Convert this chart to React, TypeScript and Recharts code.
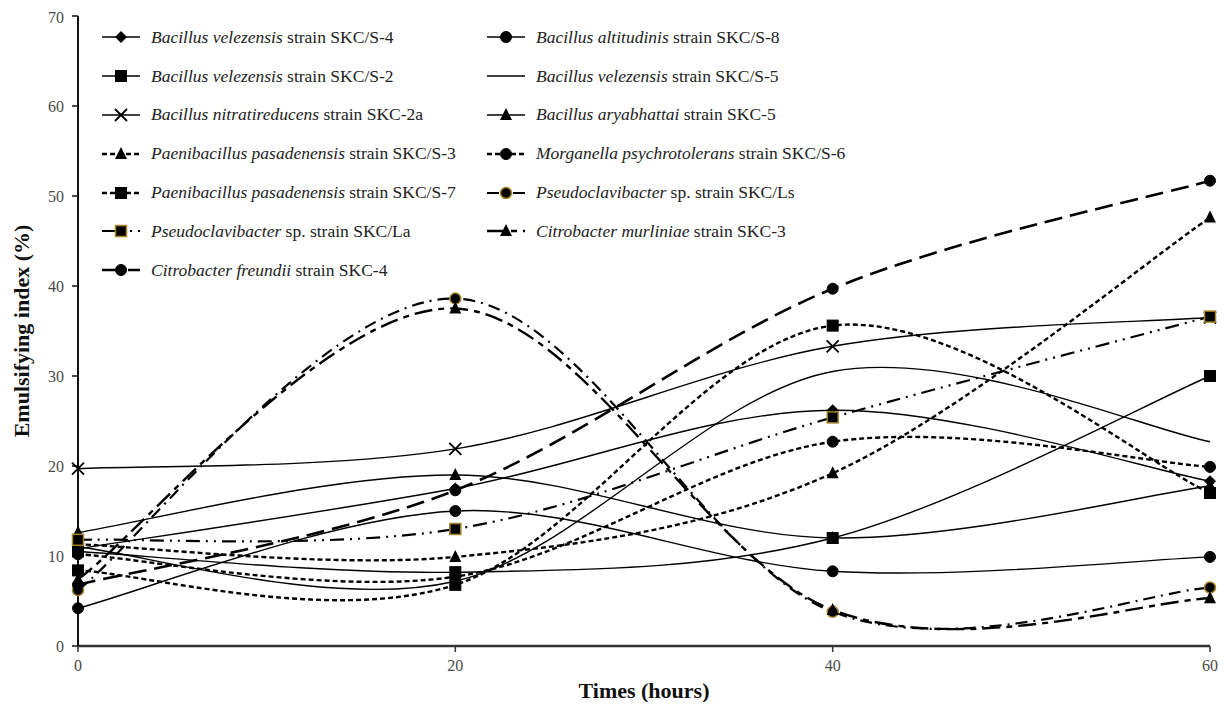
import React from "react";
import { LineChart, Line, XAxis, YAxis, Legend, Label } from "recharts";

// sampling times (hours) and emulsifying index (%) per strain
const hours = [0, 20, 40, 60];
const velezensisS4 = [10.8, 17.5, 26.2, 18.3];
const altitudinisS8 = [4.2, 15.0, 8.3, 9.9];
const velezensisS2 = [10.5, 8.2, 12.0, 30.0];
const velezensisS5 = [11.0, 7.2, 30.5, 22.7];
const nitratireducens2a = [19.7, 21.9, 33.3, 36.5];
const aryabhattai5 = [12.6, 19.0, 12.0, 17.8];
const paenibacillusS3 = [11.3, 9.9, 19.2, 47.6];
const morganellaS6 = [10.2, 7.7, 22.7, 19.9];
const paenibacillusS7 = [8.4, 6.8, 35.6, 17.0];
const pseudoLs = [6.2, 38.6, 3.8, 6.5];
const pseudoLa = [11.8, 13.0, 25.4, 36.6];
const murliniae3 = [7.4, 37.5, 4.0, 5.3];
const freundii4 = [6.8, 17.3, 39.7, 51.7];

const yTicks = [0, 10, 20, 30, 40, 50, 60, 70];
const xTicks = [0, 20, 40, 60];

type Shape = "diamond" | "circle" | "square" | "cross" | "triangle" | "none";

type Series = {
  key: string;
  values: number[];
  italic: string;
  rest: string;
  shape: Shape;
  dash?: string;
  width: number;
  gold?: boolean;
};

// legend order (row by row, two columns)
const series: Series[] = [
  { key: "s4", values: velezensisS4, italic: "Bacillus velezensis", rest: " strain SKC/S-4", shape: "diamond", width: 1.4 },
  { key: "s8", values: altitudinisS8, italic: "Bacillus altitudinis", rest: " strain SKC/S-8", shape: "circle", width: 1.4 },
  { key: "s2", values: velezensisS2, italic: "Bacillus velezensis", rest: " strain SKC/S-2", shape: "square", width: 1.4 },
  { key: "s5", values: velezensisS5, italic: "Bacillus velezensis", rest: " strain SKC/S-5", shape: "none", width: 1.4 },
  { key: "k2a", values: nitratireducens2a, italic: "Bacillus nitratireducens", rest: " strain SKC-2a", shape: "cross", width: 1.4 },
  { key: "k5", values: aryabhattai5, italic: "Bacillus aryabhattai", rest: " strain SKC-5", shape: "triangle", width: 1.4 },
  { key: "s3", values: paenibacillusS3, italic: "Paenibacillus pasadenensis", rest: " strain SKC/S-3", shape: "triangle", dash: "5 3", width: 2.4 },
  { key: "s6", values: morganellaS6, italic: "Morganella psychrotolerans", rest: " strain SKC/S-6", shape: "circle", dash: "5 3", width: 2.4 },
  { key: "s7", values: paenibacillusS7, italic: "Paenibacillus pasadenensis", rest: " strain SKC/S-7", shape: "square", dash: "5 3", width: 2.4 },
  { key: "ls", values: pseudoLs, italic: "Pseudoclavibacter", rest: " sp. strain SKC/Ls", shape: "circle", dash: "12 6 2 6", width: 2.2, gold: true },
  { key: "la", values: pseudoLa, italic: "Pseudoclavibacter", rest: " sp. strain SKC/La", shape: "square", dash: "14 6 2 6 2 6", width: 2.2, gold: true },
  { key: "k3", values: murliniae3, italic: "Citrobacter murliniae", rest: " strain SKC-3", shape: "triangle", dash: "18 6 6 6", width: 2.4 },
  { key: "k4", values: freundii4, italic: "Citrobacter freundii", rest: " strain SKC-4", shape: "circle", dash: "18 8", width: 2.6 },
];

const data = hours.map((t, i) => {
  const row: Record<string, number> = { t };
  series.forEach((s) => {
    row[s.key] = s.values[i];
  });
  return row;
});

// Excel style smoothing (Catmull-Rom as cubic bezier)
const smoothCurve = (context: any) => {
  let pts: number[][] = [];
  return {
    areaStart() {},
    areaEnd() {},
    lineStart() {
      pts = [];
    },
    point(x: number, y: number) {
      pts.push([+x, +y]);
    },
    lineEnd() {
      if (!pts.length) return;
      context.moveTo(pts[0][0], pts[0][1]);
      for (let i = 0; i < pts.length - 1; i++) {
        const p0 = pts[i - 1] || pts[i];
        const p1 = pts[i];
        const p2 = pts[i + 1];
        const p3 = pts[i + 2] || p2;
        context.bezierCurveTo(
          p1[0] + (p2[0] - p0[0]) / 6,
          p1[1] + (p2[1] - p0[1]) / 6,
          p2[0] - (p3[0] - p1[0]) / 6,
          p2[1] - (p3[1] - p1[1]) / 6,
          p2[0],
          p2[1]
        );
      }
    },
  };
};

const GOLD = "#a8842a";

const Marker = ({ shape, cx, cy, gold }: { shape: Shape; cx: number; cy: number; gold?: boolean }) => {
  const stroke = gold ? GOLD : "#000";
  const sw = gold ? 1.5 : 1;
  if (shape === "none") return null;
  if (shape === "circle")
    return <circle cx={cx} cy={cy} r={5.5} fill="#000" stroke={stroke} strokeWidth={sw} />;
  if (shape === "square")
    return <rect x={cx - 5.5} y={cy - 5.5} width={11} height={11} fill="#000" stroke={stroke} strokeWidth={sw} />;
  if (shape === "diamond")
    return <polygon points={`${cx},${cy - 6} ${cx + 6},${cy} ${cx},${cy + 6} ${cx - 6},${cy}`} fill="#000" />;
  if (shape === "triangle")
    return <polygon points={`${cx},${cy - 7} ${cx + 6},${cy + 5} ${cx - 6},${cy + 5}`} fill="#000" />;
  return (
    <g stroke="#000" strokeWidth={1.8}>
      <line x1={cx - 6} y1={cy - 6} x2={cx + 6} y2={cy + 6} />
      <line x1={cx - 6} y1={cy + 6} x2={cx + 6} y2={cy - 6} />
    </g>
  );
};

const LegendGrid = () => (
  <div
    style={{
      display: "grid",
      gridTemplateColumns: "385px 385px",
      gridAutoRows: "38.8px",
      fontFamily: "'Liberation Serif', 'Times New Roman', serif",
      fontSize: 17.5,
      color: "#222",
      paddingTop: 3,
    }}
  >
    {series.map((s) => (
      <div key={s.key} style={{ display: "flex", alignItems: "center", whiteSpace: "nowrap" }}>
        <svg width={46} height={20} style={{ marginRight: 5 }}>
          <line x1={2} y1={10} x2={40} y2={10} stroke="#000" strokeWidth={s.width} strokeDasharray={s.dash} />
          <Marker shape={s.shape} cx={21} cy={10} gold={s.gold} />
        </svg>
        <span>
          <i>{s.italic}</i>
          {s.rest}
        </span>
      </div>
    ))}
  </div>
);

const tickStyle = { fontFamily: "'Liberation Serif', serif", fontSize: 16, fill: "#4a4a4a" };
const titleStyle = { fontFamily: "'Liberation Serif', serif", fontWeight: "bold", fontSize: 22, fill: "#111" };

export default function App() {
  return (
    <LineChart width={1210} height={694} data={data} margin={{ top: 8, right: 8, bottom: 0, left: 0 }}>
      <XAxis
        dataKey="t"
        type="number"
        domain={[0, 60]}
        ticks={xTicks}
        height={56}
        tick={tickStyle}
        tickSize={6}
        tickMargin={8}
        axisLine={{ stroke: "#333", strokeWidth: 2.5 }}
        tickLine={{ stroke: "#333", strokeWidth: 1.5 }}
      >
        <Label value="Times (hours)" position="insideBottom" offset={4} style={titleStyle} />
      </XAxis>
      <YAxis
        type="number"
        domain={[0, 70]}
        ticks={yTicks}
        width={70}
        tick={tickStyle}
        tickSize={6}
        tickMargin={8}
        axisLine={{ stroke: "#111", strokeWidth: 2 }}
        tickLine={{ stroke: "#111", strokeWidth: 1.5 }}
      >
        <Label
          value="Emulsifying index (%)"
          angle={-90}
          position="insideLeft"
          offset={13}
          style={{ ...titleStyle, textAnchor: "middle" }}
        />
      </YAxis>
      <Legend
        layout="horizontal"
        verticalAlign="middle"
        align="center"
        content={() => <LegendGrid />}
        wrapperStyle={{ top: 7, left: 92, width: 780, height: 275 }}
      />
      {series.map((s) => (
        <Line
          key={s.key}
          dataKey={s.key}
          name={s.italic + s.rest}
          type={smoothCurve as any}
          stroke="#000"
          strokeWidth={s.width}
          strokeDasharray={s.dash}
          isAnimationActive={false}
          dot={(p: any) => <Marker key={`${s.key}-${p.index}`} shape={s.shape} cx={p.cx} cy={p.cy} gold={s.gold} />}
          activeDot={false}
        />
      ))}
    </LineChart>
  );
}
